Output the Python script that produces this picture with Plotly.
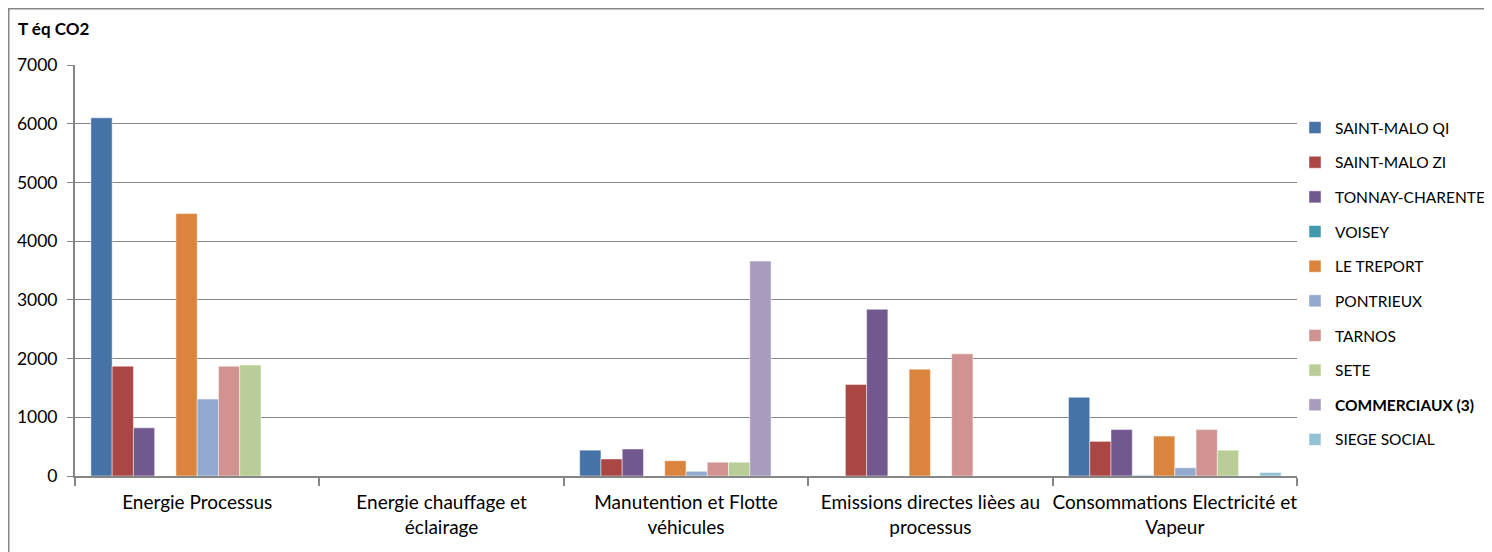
import plotly.graph_objects as go

categories = [
    "Energie Processus",
    "Energie chauffage et<br>éclairage",
    "Manutention et Flotte<br>véhicules",
    "Emissions directes lièes au<br>processus",
    "Consommations Electricité et<br>Vapeur",
]

series_names = [
    "SAINT-MALO QI", "SAINT-MALO ZI", "TONNAY-CHARENTE", "VOISEY", "LE TREPORT",
    "PONTRIEUX", "TARNOS", "SETE", "<b>COMMERCIAUX (3)</b>", "SIEGE SOCIAL",
]

saint_malo_qi = [6100, 0, 440, 0, 1340]
saint_malo_zi = [1870, 0, 290, 1560, 590]
tonnay_charente = [820, 0, 460, 2840, 790]
voisey = [0, 0, 0, 0, 10]
le_treport = [4470, 0, 260, 1820, 680]
pontrieux = [1310, 0, 80, 0, 140]
tarnos = [1870, 0, 235, 2080, 790]
sete = [1890, 0, 235, 0, 440]
commerciaux = [0, 0, 3660, 0, 0]
siege_social = [0, 0, 0, 0, 60]

values = [saint_malo_qi, saint_malo_zi, tonnay_charente, voisey, le_treport,
          pontrieux, tarnos, sete, commerciaux, siege_social]

colors = ["#4572A7", "#AA4643", "#71588F", "#4198AF", "#DB843D",
          "#93A9CF", "#D19392", "#B9CD96", "#A99BBD", "#91C3D5"]

yticks = [0, 1000, 2000, 3000, 4000, 5000, 6000, 7000]

FONT = "Lato"

fig = go.Figure()
for i, (name, vals, col) in enumerate(zip(series_names, values, colors)):
    fig.add_trace(go.Bar(
        x=categories, y=vals, name=name, legendgroup=str(i),
        marker=dict(color=col, line=dict(color="rgba(255,255,255,0.6)", width=0.8)),
    ))

# page body adds an 8px offset, so figure is drawn 8px smaller
OFF = 8
W, H = 1492 - OFF, 552 - OFF
L, R, T, B = 75 - OFF, 1492 - 1297, 65 - OFF, 552 - 476
pw, ph = W - L - R, H - T - B

def px_x(p):  # p in reference pixel coords
    return (p - OFF - L) / pw

def px_y(p):
    return (H - B - (p - OFF)) / ph

fig.update_layout(
    width=W, height=H,
    margin=dict(l=L, r=R, t=T, b=B, autoexpand=False),
    paper_bgcolor="white", plot_bgcolor="white",
    barmode="group", bargap=0.13, bargroupgap=0,
    font=dict(family=FONT, size=16, color="#000000"),
    showlegend=True,
    legend=dict(
        x=px_x(1295), y=px_y(111), xanchor="left", yanchor="top",
        xref="paper", yref="paper",
        font=dict(family=FONT, size=15.5, color="#000"),
        tracegroupgap=11.5, itemwidth=30,
        bgcolor="rgba(0,0,0,0)",
    ),
    xaxis=dict(
        type="category", showgrid=False, showline=True, linecolor="#868686", linewidth=2,
        ticks="outside", tickson="boundaries", ticklen=8, tickcolor="#868686", tickwidth=1.5,
        tickfont=dict(family=FONT, size=19, color="#000"),
        tickangle=0,
        ticklabelstandoff=8,
        range=[-0.5, 4.5],
    ),
    yaxis=dict(
        range=[0, 7000], tickvals=yticks, showgrid=True, gridcolor="#868686", gridwidth=1,
        showline=True, linecolor="#868686", linewidth=2,
        ticks="outside", ticklen=6, tickcolor="#868686",
        tickfont=dict(family=FONT, size=17.5, color="#000"),
        ticklabelstandoff=6,
        zeroline=False,
    ),
    annotations=[dict(
        text="<b>T éq CO2</b>", x=px_x(16), y=px_y(28), xref="paper", yref="paper",
        xanchor="left", yanchor="middle", showarrow=False,
        font=dict(family=FONT, size=17, color="#000"),
    )],
    shapes=[dict(
        type="rect", xref="paper", yref="paper",
        x0=px_x(8.75), x1=px_x(1560), y0=px_y(620), y1=px_y(8.75),
        line=dict(color="#868686", width=1.5), fillcolor="rgba(0,0,0,0)", layer="below",
    )],
)

fig.write_html("out.html")
